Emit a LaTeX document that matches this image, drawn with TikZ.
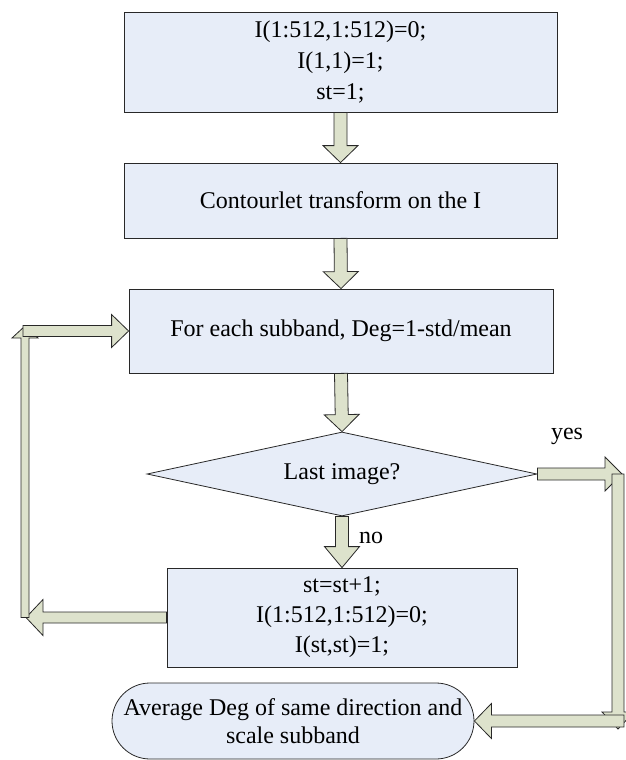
\documentclass[tikz,border=0pt]{standalone}
\usepackage{fontspec}
\setmainfont{Liberation Serif}
\usetikzlibrary{calc,shapes.geometric,shapes.misc}
\definecolor{boxfill}{RGB}{231,237,248}
\definecolor{arrfill}{RGB}{221,226,204}
\definecolor{edge}{RGB}{40,40,40}
% #1 from, #2 to, #3 shaft half width, #4 head half width, #5 head length
\newcommand\fatarrow[5]{%
  \coordinate (fab) at ($(#2)!#5!(#1)$);
  \draw[fatstyle] ($(#1)!#3!90:(#2)$) -- ($(fab)!#3!90:(#2)$) -- ($(fab)!#4!90:(#2)$) -- (#2)
    -- ($(fab)!#4!-90:(#2)$) -- ($(fab)!#3!-90:(#2)$) -- ($(#1)!#3!-90:(#2)$) -- cycle;}
\tikzset{
  box/.style={draw=edge, fill=boxfill, line width=0.8pt, inner sep=0pt, align=center,
    font=\fontsize{24}{31}\selectfont},
  fatstyle/.style={draw=edge, fill=arrfill, line width=0.8pt, line join=miter},
  lbl/.style={font=\fontsize{24}{29}\selectfont, inner sep=0pt},
}
\begin{document}
\begin{tikzpicture}[x=1pt,y=-1pt]
\useasboundingbox (0,0) rectangle (625,760);

\node[box, minimum width=433pt, minimum height=100pt] (b1) at (340.5,62)
  {I(1:512,1:512)=0;\\I(1,1)=1;\\st=1;};
\node[box, minimum width=433pt, minimum height=75pt] (b2) at (340.5,200.5)
  {Contourlet transform on the I};
\node[box, minimum width=424pt, minimum height=84pt] (b3) at (341,331)
  {For each subband, Deg=1-std/mean};
\node[box, diamond, aspect=4.6, minimum width=390pt, minimum height=84pt] (dia) at (342,474)
  {Last image?};
\node[box, minimum width=350pt, minimum height=99pt, font=\fontsize{24}{30}\selectfont] (b4) at (342,617.5)
  {st=st+1;\\I(1:512,1:512)=0;\\I(st,st)=1;};
\node[box, rounded rectangle, minimum width=362pt, minimum height=76pt, font=\fontsize{24}{28}\selectfont] (term) at (293,721)
  {Average Deg of same direction and\\scale subband};

% main flow
\fatarrow{b1.south}{b2.north}{6.5pt}{17.5pt}{17pt}
\fatarrow{b2.south}{b3.north}{6.5pt}{17.5pt}{17pt}
\fatarrow{b3.south}{dia.north}{6.5pt}{17.5pt}{17pt}
\fatarrow{dia.south}{b4.north}{6.5pt}{17.5pt}{21pt}
\node[lbl] (no) at (371,538) {no};

% yes branch
\coordinate (yR) at (622,474);
\coordinate (rT) at (618,474);
\coordinate (rB) at (618,729);
\coordinate (rS) at (624,721);
\fatarrow{dia.east}{yR}{6pt}{17pt}{17pt}
\fatarrow{rT}{rB}{6pt}{16pt}{17pt}
\fatarrow{rS}{term.east}{6pt}{17.5pt}{17pt}
\node[lbl] (yes) at (567,436) {yes};

% loop back
\coordinate (lB) at (26,617.5);
\coordinate (lV1) at (25,617.5);
\coordinate (lV2) at (25,326);
\coordinate (lT) at (23,331);
\fatarrow{b4.west}{lB}{5.5pt}{18pt}{17pt}
\fatarrow{lV1}{lV2}{4pt}{13pt}{12pt}
\fatarrow{lT}{b3.west}{5.5pt}{16.5pt}{17pt}
\end{tikzpicture}
\end{document}
